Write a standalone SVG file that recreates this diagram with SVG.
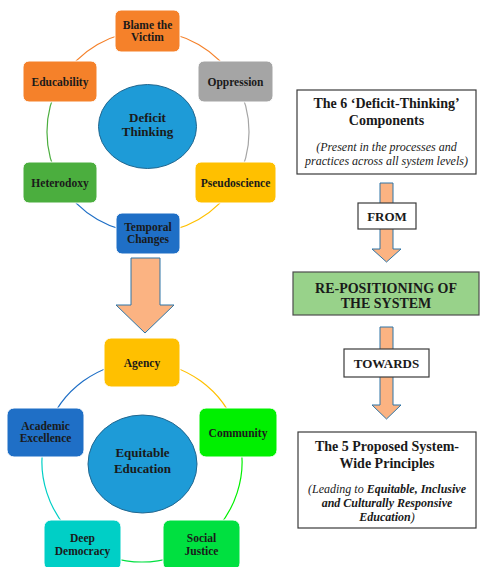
<svg xmlns="http://www.w3.org/2000/svg" width="480" height="567" viewBox="0 0 480 567">
<style>
.node{stroke:#ffffff;stroke-width:1}
.t{font-family:"Liberation Serif","Times New Roman",serif;font-weight:bold;fill:#1a1a1a;text-anchor:middle}
.n{font-size:11.5px}
.c{font-size:13px}
.h{font-size:14px}
.i{font-family:"Liberation Serif","Times New Roman",serif;font-style:italic;font-size:12px;fill:#1a1a1a;text-anchor:middle}
.ring{fill:none;stroke-width:1.2}
.arrow{fill:#FBB382;stroke:#2E75A6;stroke-width:1}
.box{fill:#ffffff;stroke:#3a3a3a;stroke-width:1.2}
</style>
<rect width="480" height="567" fill="#ffffff"/>
<g id="connectors">
<path class="ring" stroke="#F5812A" d="M148,31 A101,101 0 0 1 235.5,81.5"/>
<path class="ring" stroke="#A5A5A5" d="M235.5,81.5 A101,101 0 0 1 235.5,182.5"/>
<path class="ring" stroke="#FFC000" d="M235.5,182.5 A101,101 0 0 1 148,233"/>
<path class="ring" stroke="#1F6FC6" d="M148,233 A101,101 0 0 1 60.5,182.5"/>
<path class="ring" stroke="#4BAE3E" d="M60.5,182.5 A101,101 0 0 1 60.5,81.5"/>
<path class="ring" stroke="#F5812A" d="M60.5,81.5 A101,101 0 0 1 148,31"/>
<path class="ring" stroke="#FFC000" d="M142,362 A100,100 0 0 1 237.1,431.1"/>
<path class="ring" stroke="#00F000" d="M237.1,431.1 A100,100 0 0 1 200.8,542.9"/>
<path class="ring" stroke="#00E040" d="M200.8,542.9 A100,100 0 0 1 83.2,542.9"/>
<path class="ring" stroke="#00CFC6" d="M83.2,542.9 A100,100 0 0 1 46.9,431.1"/>
<path class="ring" stroke="#1F6FC6" d="M46.9,431.1 A100,100 0 0 1 142,362"/>
<polygon class="arrow" points="131,258 160,258 160,305 174,305 145,333 116,305 131,305"/>
<polygon class="arrow" points="380,183 393,183 393,249 401,249 386.5,262 372,249 380,249"/>
<polygon class="arrow" points="380,327 393,327 393,405 401,405 386.5,419 372,405 380,405"/>
</g>
<g id="deficit-thinking">
<ellipse cx="147.5" cy="126.5" rx="49" ry="42" fill="#1E9BD7" stroke="#22678F" stroke-width="1"/>
<text class="t c" x="147.5" y="122">Deficit</text>
<text class="t c" x="147.5" y="136">Thinking</text>
</g>
<g id="blame-the-victim">
<rect class="node" x="115" y="10" width="65" height="42" rx="6" fill="#F5812A"/>
<text class="t n" x="147.5" y="29">Blame the</text>
<text class="t n" x="147.5" y="41">Victim</text>
</g>
<g id="oppression">
<rect class="node" x="198" y="61" width="75" height="41" rx="6" fill="#A5A5A5"/>
<text class="t n" x="235.5" y="85.5">Oppression</text>
</g>
<g id="pseudoscience">
<rect class="node" x="195" y="162" width="81" height="41" rx="6" fill="#FFC000"/>
<text class="t n" x="235.5" y="186.5">Pseudoscience</text>
</g>
<g id="temporal-changes">
<rect class="node" x="116" y="213" width="64" height="41" rx="6" fill="#1F6FC6"/>
<text class="t n" x="148" y="231">Temporal</text>
<text class="t n" x="148" y="243">Changes</text>
</g>
<g id="heterodoxy">
<rect class="node" x="23" y="162" width="74" height="41" rx="6" fill="#4BAE3E"/>
<text class="t n" x="60" y="186.5">Heterodoxy</text>
</g>
<g id="educability">
<rect class="node" x="23" y="61" width="74" height="41" rx="6" fill="#F5812A"/>
<text class="t n" x="60" y="85.5">Educability</text>
</g>
<g id="equitable-education">
<ellipse cx="142.5" cy="464" rx="54.5" ry="49" fill="#1E9BD7" stroke="#22678F" stroke-width="1"/>
<text class="t c" x="142.5" y="457">Equitable</text>
<text class="t c" x="142.5" y="473">Education</text>
</g>
<g id="agency">
<rect class="node" x="104" y="338" width="76" height="49" rx="7" fill="#FFC000"/>
<text class="t n" x="142" y="366.5">Agency</text>
</g>
<g id="community">
<rect class="node" x="199" y="408" width="78" height="49" rx="7" fill="#00F000"/>
<text class="t n" x="238" y="436.5">Community</text>
</g>
<g id="social-justice">
<rect class="node" x="163" y="520" width="77" height="50" rx="7" fill="#00E040"/>
<text class="t n" x="201.5" y="542">Social</text>
<text class="t n" x="201.5" y="554.5">Justice</text>
</g>
<g id="deep-democracy">
<rect class="node" x="44" y="520" width="77" height="50" rx="7" fill="#00CFC6"/>
<text class="t n" x="82.5" y="542">Deep</text>
<text class="t n" x="82.5" y="554.5">Democracy</text>
</g>
<g id="academic-excellence">
<rect class="node" x="7" y="408" width="77" height="49" rx="7" fill="#1F6FC6"/>
<text class="t n" x="45.5" y="430">Academic</text>
<text class="t n" x="45.5" y="442">Excellence</text>
</g>
<g id="components-box">
<rect class="box" x="297" y="90" width="179" height="84"/>
<text class="t h" x="386.5" y="108">The 6 ‘Deficit-Thinking’</text>
<text class="t h" x="386.5" y="125">Components</text>
<text class="i" x="386.5" y="151">(Present in the processes and</text>
<text class="i" x="386.5" y="165">practices across all system levels)</text>
</g>
<g id="from">
<rect class="box" x="358" y="203" width="58" height="26"/>
<text class="t c" x="387" y="221">FROM</text>
</g>
<g id="repositioning">
<rect x="293" y="272" width="186" height="43" fill="#98D28A" stroke="#4D4D4D" stroke-width="1.2"/>
<text class="t h" x="386" y="293">RE-POSITIONING OF</text>
<text class="t h" x="386" y="308">THE SYSTEM</text>
</g>
<g id="towards">
<rect class="box" x="344" y="349" width="85" height="28"/>
<text class="t c" x="386.5" y="368">TOWARDS</text>
</g>
<g id="principles-box">
<rect class="box" x="298" y="432" width="178" height="96"/>
<text class="t h" x="387" y="451">The 5 Proposed System-</text>
<text class="t h" x="387" y="468">Wide Principles</text>
<text class="i" x="387" y="493">(Leading to <tspan font-weight="bold">Equitable, Inclusive</tspan></text>
<text class="i" x="387" y="507" font-weight="bold">and Culturally Responsive</text>
<text class="i" x="387" y="521"><tspan font-weight="bold">Education</tspan>)</text>
</g>
</svg>
